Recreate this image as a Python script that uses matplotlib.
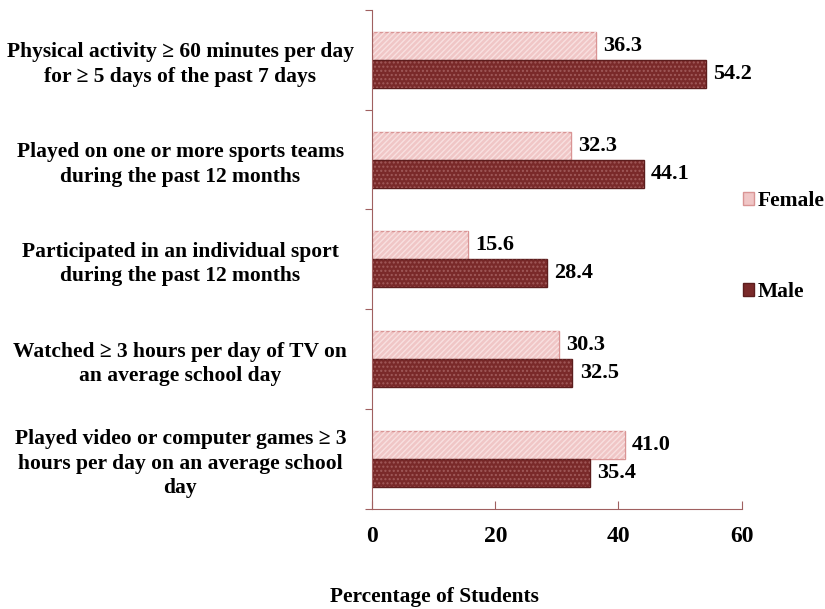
import matplotlib.pyplot as plt
import numpy as np

plt.rcParams['font.family'] = ['Liberation Serif', 'DejaVu Serif']
plt.rcParams['font.weight'] = 'bold'

categories = [
    "Physical activity \u2265 60 minutes per day\nfor \u2265 5 days of the past 7 days",
    "Played on one or more sports teams\nduring the past 12 months",
    "Participated in an individual sport\nduring the past 12 months",
    "Watched \u2265 3 hours per day of TV on\nan average school day",
    "Played video or computer games \u2265 3\nhours per day on an average school\nday",
]
female = [36.3, 32.3, 15.6, 30.3, 41.0]
male = [54.2, 44.1, 28.4, 32.5, 35.4]

female_col = '#f0c6c6'
female_edge = '#d99494'
male_col = '#7a2a2a'
male_edge = '#5c1d1d'
axis_col = '#a06060'

fig = plt.figure(figsize=(8.25, 6.09), dpi=100)
ax = fig.add_axes([0.451, 0.164, 0.448, 0.820])

y = np.arange(len(categories))
h = 0.28

bf = ax.barh(y - h / 2, female, height=h, color=female_col, edgecolor=female_edge,
             linewidth=1, label='Female')
ax.barh(y - h / 2, female, height=h, color='none', edgecolor='#f8e0e0', hatch='//////',
        linewidth=0)
bm = ax.barh(y + h / 2, male, height=h, color=male_col, edgecolor=male_edge,
             linewidth=1, label='Male')
ax.barh(y + h / 2, male, height=h, color='none', edgecolor='#a05a5a', hatch='....',
        linewidth=0)

for i in range(len(categories)):
    ax.text(female[i] + 1.2, y[i] - h / 2, '%.1f' % female[i], va='center', ha='left',
            fontsize=16, fontweight='bold')
    ax.text(male[i] + 1.2, y[i] + h / 2, '%.1f' % male[i], va='center', ha='left',
            fontsize=16, fontweight='bold')

ax.set_xlim(0, 60)
ax.set_ylim(len(categories) - 0.5, -0.5)
ax.set_xticks([0, 20, 40, 60])
ax.set_yticks(np.arange(-0.5, len(categories), 1), minor=False)
ax.set_yticklabels([])
ax.set_yticks(y, minor=True)
ax.set_yticklabels(categories, minor=True, fontsize=15.5, fontweight='bold',
                   ha='center', linespacing=1.3)
ax.tick_params(axis='y', which='minor', length=0, pad=138)
ax.tick_params(axis='y', which='major', length=5, color=axis_col, direction='out')
ax.tick_params(axis='x', length=6, color=axis_col, direction='in', labelsize=17, pad=12)

for s in ['top', 'right']:
    ax.spines[s].set_visible(False)
for s in ['left', 'bottom']:
    ax.spines[s].set_color(axis_col)

ax.set_xlabel('Percentage of Students', fontsize=15.4, fontweight='bold', va='center')
ax.xaxis.set_label_coords(0.168, -0.176)

ax.legend([bf, bm], ['Female', 'Male'], loc='upper left', bbox_to_anchor=(0.95, 0.675),
          frameon=False, handlelength=0.55, handleheight=0.55, handletextpad=0.15,
          labelspacing=3.3, prop={'size': 15.5, 'weight': 'bold'})

fig.savefig('out.png', dpi=100)
